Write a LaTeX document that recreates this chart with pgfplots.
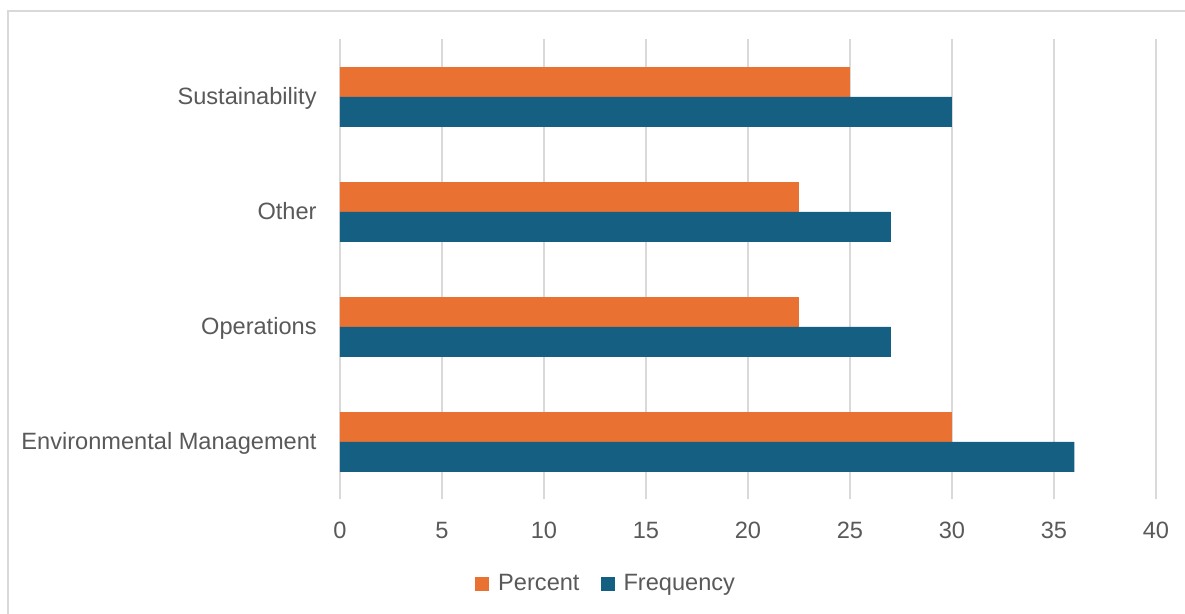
\documentclass[border=0pt]{standalone}
\usepackage{pgfplots}
\pgfplotsset{compat=1.18}
\usepackage{fontspec}
\setmainfont{Liberation Sans}
\definecolor{barOrange}{HTML}{E97132}
\definecolor{barBlue}{HTML}{156082}
\definecolor{gridGray}{HTML}{D9D9D9}
\definecolor{textGray}{HTML}{595959}
\begin{document}
\begin{tikzpicture}
\useasboundingbox (0,0) rectangle (592.5pt,307pt);
% chart frame (top and left edges)
\draw[gridGray, line width=0.8pt] (4pt,0) -- (4pt,301.5pt) -- (592.5pt,301.5pt);
\begin{axis}[
  at={(170pt,57.25pt)}, anchor=south west,
  width=408pt, height=230pt, scale only axis,
  xmin=0, xmax=40, xtick={0,5,...,40},
  ymin=-0.5, ymax=3.5, ytick={0,1,2,3},
  yticklabels={Environmental Management, Operations, Other, Sustainability},
  /pgf/number format/assume math mode=true,
  xbar, bar width=0.26,
  axis line style={draw=none},
  major tick length=0pt,
  xmajorgrids, grid style={gridGray, line width=0.8pt},
  font=\fontsize{11.8}{13}\selectfont,
  tick label style={text=textGray},
  x tick label style={anchor=center, yshift=-15.5pt},
  y tick label style={anchor=base east, inner sep=0pt, xshift=-11.5pt, yshift=-3.75pt},
  legend style={at={(0.328,-0.1835)}, anchor=center, draw=none, fill=none,
    legend columns=2, text=textGray, font=\fontsize{11.8}{13}\selectfont,
    nodes={inner xsep=2.5pt},
    /tikz/every odd column/.append style={column sep=2pt},
    /tikz/every even column/.append style={column sep=8pt}},
  legend image code/.code={\fill[#1] (0pt,-3.5pt) rectangle (7pt,3.5pt);},
]
\addplot[fill=barOrange, draw=none, bar shift=0.13] coordinates {
  (30,0) (22.5,1) (22.5,2) (25,3)};
\addlegendentry{Percent}
\addplot[fill=barBlue, draw=none, bar shift=-0.13] coordinates {
  (36,0) (27,1) (27,2) (30,3)};
\addlegendentry{Frequency}
\end{axis}
\end{tikzpicture}
\end{document}
